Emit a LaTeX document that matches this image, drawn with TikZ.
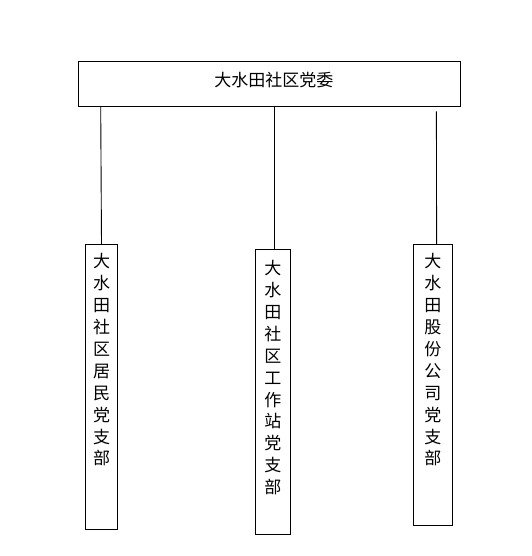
\documentclass[tikz,border=0pt]{standalone}
\usepackage{fontspec}
\newfontfamily\cjk{Noto Sans CJK SC}
\usepackage{tikz}
\usetikzlibrary{positioning}

\begin{document}
\begin{tikzpicture}[x=1pt, y=-1pt, line width=0.9pt,
  box/.style={draw, rectangle, inner sep=0pt},
  branch/.style={box, anchor=north, align=center, inner ysep=9.7pt,
    font=\cjk\fontsize{17}{21.9}\selectfont}]
\useasboundingbox (0,0) rectangle (531,556);
\node[box, minimum width=382pt, minimum height=45pt, text depth=8pt, font=\cjk\fontsize{17}{20}\selectfont] (top) at (269,83.5) {\hspace*{9.6pt}大水田社区党委};
\node[branch, minimum width=32.4pt, text height=210.5pt, text depth=55.1pt] (left) at (101.5,244.3) {大\\水\\田\\社\\区\\居\\民\\党\\支\\部};
\node[branch, minimum width=35pt, text height=234.2pt, text depth=31.4pt] (mid) at (272.8,249.3) {大\\水\\田\\社\\区\\工\\作\\站\\党\\支\\部};
\node[branch, minimum width=39pt, text height=210.5pt, text depth=51.1pt] (right) at (432.8,244.3) {大\\水\\田\\股\\份\\公\\司\\党\\支\\部};
\draw ([xshift=-0.8pt]left.north |- top.south) -- (left.north);
\draw ([xshift=1.5pt]mid.north |- top.south) -- ([xshift=1.5pt]mid.north);
\draw ([xshift=3.6pt,yshift=-5pt]right.north |- top.south) -- ([xshift=3.8pt]right.north);
\end{tikzpicture}
\end{document}
